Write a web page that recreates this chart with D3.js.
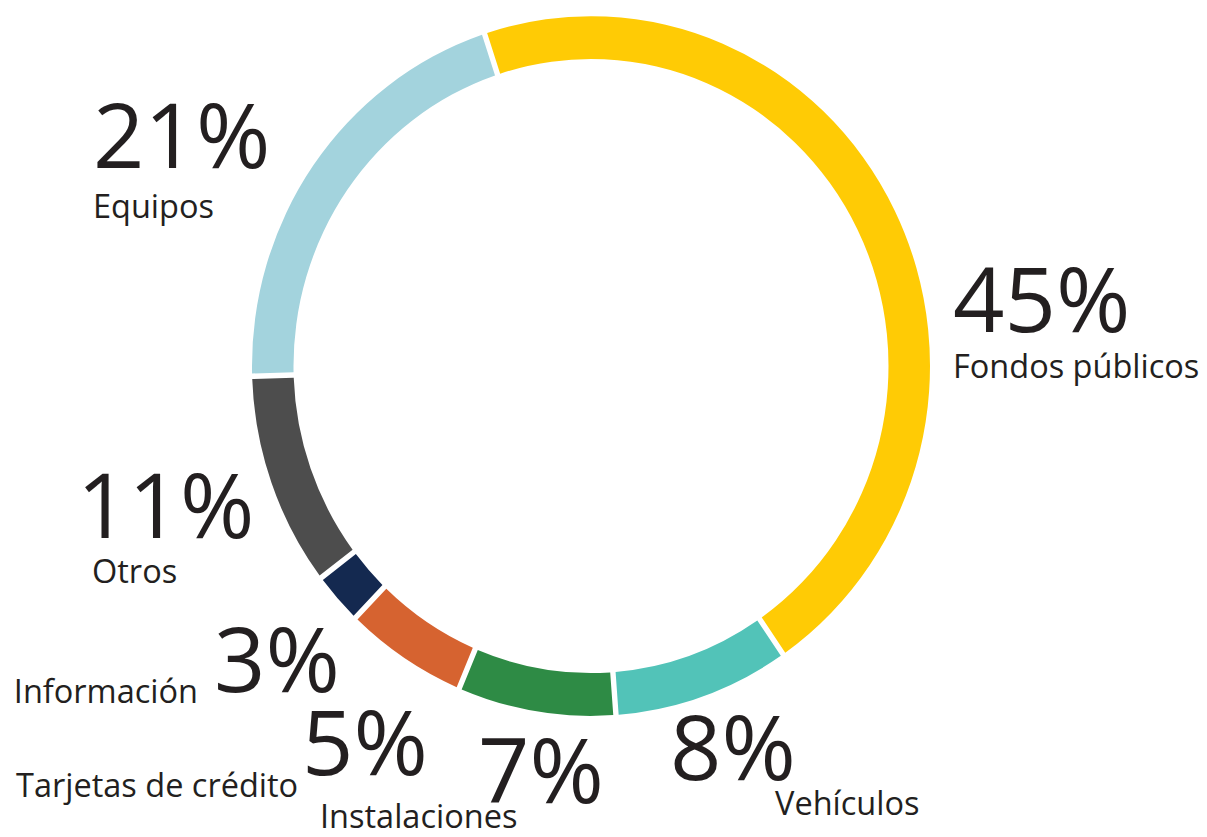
<!DOCTYPE html>
<html>
<head>
<meta charset="utf-8">
<script src="https://cdn.jsdelivr.net/npm/d3@7"></script>
<style>
  body { margin: 0; background: #fff; }
  text { font-family: "Open Sans", sans-serif; fill: #231f20; }
</style>
</head>
<body>
<svg id="donut" width="1207" height="837"></svg>
<script>
// data
const categories = ["Fondos públicos", "Vehículos", "Instalaciones", "Tarjetas de crédito", "Información", "Otros", "Equipos"];
const shares = [46.1, 8.3, 7.4, 5.7, 2.2, 9.8, 20.5];   // arc sizes as drawn
const pctLabels = ["45%", "8%", "7%", "5%", "3%", "11%", "21%"];
const colors = ["#ffcb05", "#52c3b8", "#2e8b45", "#d66330", "#142950", "#4d4d4d", "#a3d3dd"];

// label placement (layout only)
const pctPos = [[953, 332], [670, 780], [478, 803], [302, 775], [214, 692], [77, 538], [93, 168]];
const namePos = [[953, 378, "start"], [775, 815, "start"], [320, 828, "start"], [16, 797, "start"], [198, 703, "end"], [92, 583, "start"], [93, 218, "start"]];

const svg = d3.select("#donut");
const cx = 591, cy = 366;
const rOuter = 339, rInner = 297.5;

const pie = d3.pie()
  .sort(null)
  .value(d => d)
  .startAngle(-18.3 * Math.PI / 180)
  .endAngle(-18.3 * Math.PI / 180 + 2 * Math.PI)
  .padAngle(0.017);

const arc = d3.arc()
  .innerRadius(rInner)
  .outerRadius(rOuter)
  .padRadius(318);

const ring = svg.append("g")
  .attr("transform", `translate(${cx},${cy}) scale(1,1.032)`);

ring.selectAll("path")
  .data(pie(shares))
  .enter().append("path")
  .attr("d", arc)
  .attr("fill", (d, i) => colors[i]);

svg.selectAll("text.pct")
  .data(pctLabels)
  .enter().append("text")
  .attr("class", "pct")
  .attr("x", (d, i) => pctPos[i][0])
  .attr("y", (d, i) => pctPos[i][1])
  .style("font-size", "90px")
  .text(d => d);

svg.selectAll("text.name")
  .data(categories)
  .enter().append("text")
  .attr("class", "name")
  .attr("x", (d, i) => namePos[i][0])
  .attr("y", (d, i) => namePos[i][1])
  .attr("text-anchor", (d, i) => namePos[i][2])
  .style("font-size", "32.5px")
  .text(d => d);
</script>
</body>
</html>
